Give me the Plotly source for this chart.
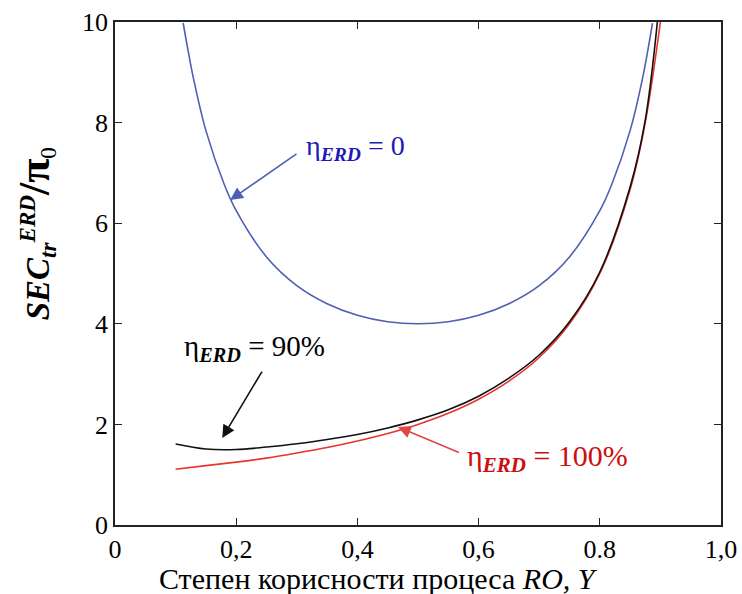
import plotly.graph_objects as go

# Data
y_eta0 = [0.1125, 0.12, 0.13, 0.15, 0.18, 0.2, 0.25, 0.3, 0.35, 0.4, 0.45, 0.5,
          0.55, 0.6, 0.65, 0.7, 0.75, 0.8, 0.82, 0.85, 0.87, 0.887]
sec_eta0 = [9.98, 9.47, 8.85, 7.84, 6.78, 6.25, 5.33, 4.76, 4.40, 4.17, 4.04, 4.00,
            4.04, 4.17, 4.40, 4.76, 5.33, 6.25, 6.78, 7.84, 8.85, 9.98]

y_eta90 = [0.1, 0.15, 0.2, 0.25, 0.3, 0.35, 0.4, 0.45, 0.5, 0.55, 0.6,
           0.65, 0.7, 0.75, 0.8, 0.85, 0.875, 0.895]
sec_eta90 = [1.61, 1.51, 1.50, 1.55, 1.615, 1.70, 1.80, 1.93, 2.09, 2.29, 2.56,
             2.92, 3.38, 4.04, 5.03, 6.72, 8.05, 10.0]

y_eta100 = [0.1, 0.15, 0.2, 0.25, 0.3, 0.35, 0.4, 0.45, 0.5, 0.55, 0.6,
            0.65, 0.7, 0.75, 0.8, 0.85, 0.875, 0.9]
sec_eta100 = [1.11, 1.18, 1.25, 1.33, 1.43, 1.54, 1.67, 1.82, 2.00, 2.22, 2.50,
              2.86, 3.33, 4.00, 5.00, 6.67, 8.00, 10.0]

x_tickvals = [0, 0.2, 0.4, 0.6, 0.8, 1.0]
x_ticktext = ["0", "0,2", "0,4", "0,6", "0.8", "1,0"]
y_tickvals = [0, 2, 4, 6, 8, 10]

FONT = "Liberation Serif"

fig = go.Figure()
fig.add_trace(go.Scatter(x=y_eta0, y=sec_eta0, mode="lines",
                         line=dict(color="#4f5fb3", width=1.6, shape="spline"),
                         showlegend=False))
fig.add_trace(go.Scatter(x=y_eta100, y=sec_eta100, mode="lines",
                         line=dict(color="#e8332e", width=1.6, shape="spline"),
                         showlegend=False))
fig.add_trace(go.Scatter(x=y_eta90, y=sec_eta90, mode="lines",
                         line=dict(color="#111111", width=1.6, shape="spline"),
                         showlegend=False))

annos = []
# arrows
for (hx, hy, tx, ty, col) in [
    (0.19, 6.46, 0.302, 7.40, "#4f5fb3"),
    (0.177, 1.73, 0.244, 3.08, "#111111"),
    (0.467, 1.95, 0.570, 1.43, "#e0454a"),
]:
    annos.append(dict(x=hx, y=hy, ax=tx, ay=ty, xref="x", yref="y",
                      axref="x", ayref="y", text="", showarrow=True,
                      arrowhead=2, arrowsize=1.6, arrowwidth=1.6,
                      arrowcolor=col))
# labels
annos.append(dict(x=0.312, y=7.50, xref="x", yref="y", xanchor="left",
                  yanchor="middle", showarrow=False,
                  text="η<sub><b><i>ERD</i></b></sub> = 0",
                  font=dict(family=FONT, size=28, color="#1a1ab8")))
annos.append(dict(x=0.110, y=3.52, xref="x", yref="y", xanchor="left",
                  yanchor="middle", showarrow=False,
                  text="η<sub><b><i>ERD</i></b></sub> = 90%",
                  font=dict(family=FONT, size=29, color="#000000")))
annos.append(dict(x=0.578, y=1.33, xref="x", yref="y", xanchor="left",
                  yanchor="middle", showarrow=False,
                  text="η<sub><b><i>ERD</i></b></sub> = 100%",
                  font=dict(family=FONT, size=30, color="#cc0e0e")))
# axis titles
annos.append(dict(x=0.434, y=-0.106, xref="paper", yref="paper",
                  xanchor="center", yanchor="middle", showarrow=False,
                  text="Степен корисности процеса <i>RO, Y</i>",
                  font=dict(family=FONT, size=30, color="black")))
annos.append(dict(x=-0.132, y=0.578, xref="paper", yref="paper",
                  xanchor="center", yanchor="middle", showarrow=False,
                  textangle=-90,
                  text=("<b><i>SEC</i></b><sub><b><i>tr</i></b></sub>"
                        "<sup><b><i>ERD</i></b></sup>"
                        "<span style='font-size:44px'><b>/π</b></span><sub>0</sub>"),
                  font=dict(family=FONT, size=33, color="black")))

fig.update_layout(
    width=742, height=594,
    margin=dict(l=115, r=21, t=22, b=69),
    paper_bgcolor="white", plot_bgcolor="white",
    font=dict(family=FONT, size=26, color="black"),
    annotations=annos,
    xaxis=dict(range=[0, 1.0], tickvals=x_tickvals, ticktext=x_ticktext,
               automargin=False,
               showgrid=False, zeroline=False, showline=True,
               linecolor="#222", linewidth=1.6, mirror="ticks",
               ticks="inside", ticklen=7, tickwidth=1.4, tickcolor="#222",
               tickfont=dict(family=FONT, size=26)),
    yaxis=dict(range=[0, 10], tickvals=y_tickvals,
               automargin=False,
               showgrid=False, zeroline=False, showline=True,
               linecolor="#222", linewidth=1.6, mirror="ticks",
               ticks="inside", ticklen=7, tickwidth=1.4, tickcolor="#222",
               tickfont=dict(family=FONT, size=26)),
)

fig.write_html("out.html", config={"displayModeBar": False},
               post_script="document.body.style.margin='0px';")
